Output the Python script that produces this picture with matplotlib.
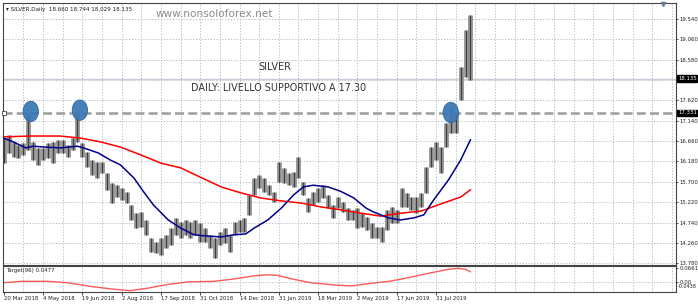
import numpy as np
import matplotlib.pyplot as plt
from matplotlib.patches import Ellipse

# indice delle barre giornaliere (un campione ogni 4 barre)
bar_idx = np.arange(0, 381, 4)
price_low = [16.14, 16.38, 16.29, 16.26, 16.33, 16.45, 16.21, 16.10, 16.21, 16.26,
             16.14, 16.38, 16.38, 16.29, 16.45, 16.64, 16.29, 16.05, 15.86, 15.79,
             15.91, 15.51, 15.20, 15.34, 15.27, 15.20, 14.80, 14.61, 14.63, 14.45,
             14.05, 14.02, 13.97, 14.14, 14.21, 14.45, 14.38, 14.45, 14.38, 14.45,
             14.28, 14.28, 14.14, 13.90, 14.21, 14.26, 14.05, 14.45, 14.52, 14.52,
             14.92, 15.39, 15.55, 15.46, 15.39, 15.22, 15.70, 15.67, 15.63, 15.58,
             15.79, 15.39, 14.99, 15.15, 15.22, 15.32, 15.08, 14.85, 15.08, 14.99,
             14.80, 14.80, 14.61, 14.63, 14.56, 14.38, 14.38, 14.28, 14.56, 14.73,
             14.73, 15.11, 15.11, 15.04, 14.96, 15.11, 15.44, 16.05, 16.21, 15.91,
             16.52, 16.85, 16.85, 17.63, 18.17, 18.10]
price_high = [16.73, 16.80, 16.64, 16.57, 16.62, 17.32, 16.64, 16.50, 16.50, 16.62,
              16.64, 16.69, 16.69, 16.57, 16.73, 17.35, 16.62, 16.40, 16.21, 16.17,
              16.17, 15.91, 15.67, 15.63, 15.55, 15.46, 15.15, 14.96, 14.99, 14.80,
              14.38, 14.28, 14.38, 14.45, 14.61, 14.85, 14.75, 14.80, 14.75, 14.80,
              14.73, 14.61, 14.45, 14.38, 14.52, 14.61, 14.45, 14.75, 14.80, 14.85,
              15.39, 15.79, 15.86, 15.79, 15.63, 15.46, 16.17, 16.03, 15.91, 15.93,
              16.29, 15.70, 15.32, 15.46, 15.55, 15.63, 15.39, 15.15, 15.34, 15.22,
              15.08, 15.04, 15.08, 14.96, 14.87, 14.73, 14.63, 14.63, 15.04, 15.11,
              15.04, 15.55, 15.44, 15.34, 15.34, 15.44, 16.05, 16.52, 16.64, 16.52,
              17.09, 17.46, 17.32, 18.41, 19.28, 19.63]

# media mobile lunga (rossa)
ma_red_idx = [0, 22, 46, 63, 79, 95, 112, 128, 144, 160, 177, 193, 209, 226,
              242, 258, 274, 291, 307, 323, 340, 356, 372, 380]
ma_red = [16.76, 16.78, 16.78, 16.73, 16.64, 16.52, 16.33, 16.14, 16.03, 15.81,
          15.58, 15.44, 15.32, 15.25, 15.20, 15.11, 15.04, 14.96, 14.89, 14.96,
          15.01, 15.18, 15.34, 15.51]

# media mobile corta (blu)
ma_blue_idx = [0, 8, 18, 24, 33, 46, 60, 65, 77, 87, 95, 106, 114, 122, 134, 144,
               155, 166, 177, 187, 197, 204, 215, 226, 236, 244, 252, 264, 274,
               285, 295, 301, 313, 323, 334, 342, 350, 362, 372, 380]
ma_blue = [16.73, 16.64, 16.50, 16.54, 16.52, 16.50, 16.54, 16.50, 16.38, 16.21,
           16.10, 15.79, 15.46, 15.15, 14.80, 14.61, 14.45, 14.42, 14.40, 14.45,
           14.47, 14.61, 14.80, 15.08, 15.39, 15.58, 15.62, 15.58, 15.48, 15.32,
           15.08, 14.99, 14.85, 14.80, 14.85, 14.92, 15.27, 15.74, 16.21, 16.69]

# indicatore Target(96)
target_idx = [0, 14, 36, 52, 73, 90, 103, 117, 134, 150, 171, 187, 204, 215, 223,
              236, 250, 269, 283, 299, 315, 331, 348, 362, 370, 376, 380]
target_val = [-0.005, 0.002, 0.002, -0.005, -0.025, -0.037, -0.044, -0.032, -0.013,
              -0.001, 0.002, 0.013, 0.029, 0.034, 0.031, 0.012, -0.005, -0.016,
              -0.021, -0.008, 0.003, 0.022, 0.044, 0.061, 0.066, 0.061, 0.049]

date_labels = ['20 Mar 2018', '4 May 2018', '19 Jun 2018', '2 Aug 2018', '17 Sep 2018',
               '31 Oct 2018', '14 Dec 2018', '31 Jan 2019', '18 Mar 2019', '2 May 2019',
               '17 Jun 2019', '31 Jul 2019']
price_ticks = [19.54, 19.06, 18.58, 18.10, 17.62, 17.14, 16.66, 16.18, 15.70, 15.22,
               14.74, 14.26, 13.78]
support = 17.331
last_price = 18.135
touch_idx = [22, 62, 364]
touch_price = [17.36, 17.39, 17.335]

grid_col = '#a9b3bf'
fs = 3.9
ymin, ymax = 13.738, 19.917

fig = plt.figure(figsize=(6.98, 3.08), dpi=100)
ax = fig.add_axes([0.0043, 0.1396, 0.9642, 0.8506])
ax2 = fig.add_axes([0.0043, 0.052, 0.9642, 0.0844])
x0, x1 = -0.6, 547.4

# griglia
for a in (ax, ax2):
    for g in range(16, 548, 16):
        a.axvline(g, color=grid_col, lw=0.6, ls=(0, (1.5, 2)), zorder=0)
for p in price_ticks:
    ax.axhline(p, color=grid_col, lw=0.6, ls=(0, (1.5, 2)), zorder=0)
ax.axhline(last_price, color='#c4ccd6', lw=1.0, zorder=1)

# candele
ax.vlines(bar_idx, price_low, price_high, color='#8e8e8e', lw=3.4, zorder=2)
ax.vlines(bar_idx, price_low, price_high, color='#3c3c3c', lw=0.7, zorder=3)

ax.plot(ma_red_idx, ma_red, color='#ff0000', lw=1.1, zorder=4)
ax.plot(ma_blue_idx, ma_blue, color='#00008b', lw=1.1, zorder=4)

# supporto
ax.axhline(support, color='#a0a0a0', lw=1.9, ls=(0, (3.4, 1.6)), zorder=3)
ax.plot([x0 + 0.8], [support], marker='s', ms=2.5, mfc='white', mec='#444', mew=0.6,
        zorder=5, clip_on=False)
for xi, yi in zip(touch_idx, touch_price):
    ax.add_patch(Ellipse((xi, yi), 12.5, 0.48, facecolor='#3d7ab5', edgecolor='#2d6399',
                         lw=0.6, alpha=0.95, zorder=6))

ax.set_xlim(x0, x1)
ax.set_ylim(ymin, ymax)
ax.yaxis.tick_right()
ax.set_yticks([p for p in price_ticks if p != 18.10])
ax.set_yticklabels(['%.3f' % p for p in price_ticks if p != 18.10], fontsize=fs,
                   color='#222')
ax.tick_params(axis='y', length=1.5, width=0.5, pad=0.8)
ax.set_xticks([])
for s in ax.spines.values():
    s.set_color('#444')
    s.set_linewidth(0.8)

# etichette prezzo
for val in (last_price, support):
    ax.text(1.003, (val - ymin) / (ymax - ymin), '%.3f' % val,
            transform=ax.transAxes, fontsize=fs, color='white', va='center', ha='left',
            bbox=dict(boxstyle='square,pad=0.12', fc='black', ec='black'))

ax.text(0.004, 0.985, '\u25be SILVER,Daily  18.660 18.744 18.029 18.135',
        transform=ax.transAxes, fontsize=4.1, color='#222', va='top', ha='left')
ax.text(0.314, 0.978, 'www.nonsoloforex.net', transform=ax.transAxes, fontsize=7.6,
        color='#8c8c8c', va='top', ha='center')
ax.text(0.404, 0.755, 'SILVER', transform=ax.transAxes, fontsize=7.0, color='#333',
        va='center', ha='center')
ax.text(0.409, 0.675, 'DAILY: LIVELLO SUPPORTIVO A 17.30', transform=ax.transAxes,
        fontsize=6.9, color='#333', va='center', ha='center')
ax.plot([537], [19.9], marker='v', ms=3, color='#6a7d96', clip_on=False, zorder=6)

# pannello indicatore
ax2.axhline(0, color=grid_col, lw=0.6, ls=(0, (1.5, 2)), zorder=0)
ax2.plot(target_idx, target_val, color='#ff5a5a', lw=1.0)
ax2.set_xlim(x0, x1)
ax2.set_ylim(-0.0504, 0.0773)
ax2.yaxis.tick_right()
ax2.set_yticks([0.0661, 0.0])
ax2.set_yticklabels(['0.0661', '0.00'], fontsize=fs, color='#222')
ax2.tick_params(axis='y', length=1.5, width=0.5, pad=0.8)
ax2.text(1.002, 0.2, '-0.0438', transform=ax2.transAxes, fontsize=3.5, color='#222',
         va='center', ha='left')
ax2.set_xticks(range(0, 353, 32))
ax2.set_xticklabels(date_labels, fontsize=fs, color='#222', ha='left')
ax2.tick_params(axis='x', length=2, width=0.5, pad=1)
for s in ax2.spines.values():
    s.set_color('#444')
    s.set_linewidth(0.8)
ax2.text(0.004, 0.93, 'Target(96) 0.0477', transform=ax2.transAxes, fontsize=3.9,
         color='#222', va='top', ha='left')

fig.savefig('out.png', dpi=100)
